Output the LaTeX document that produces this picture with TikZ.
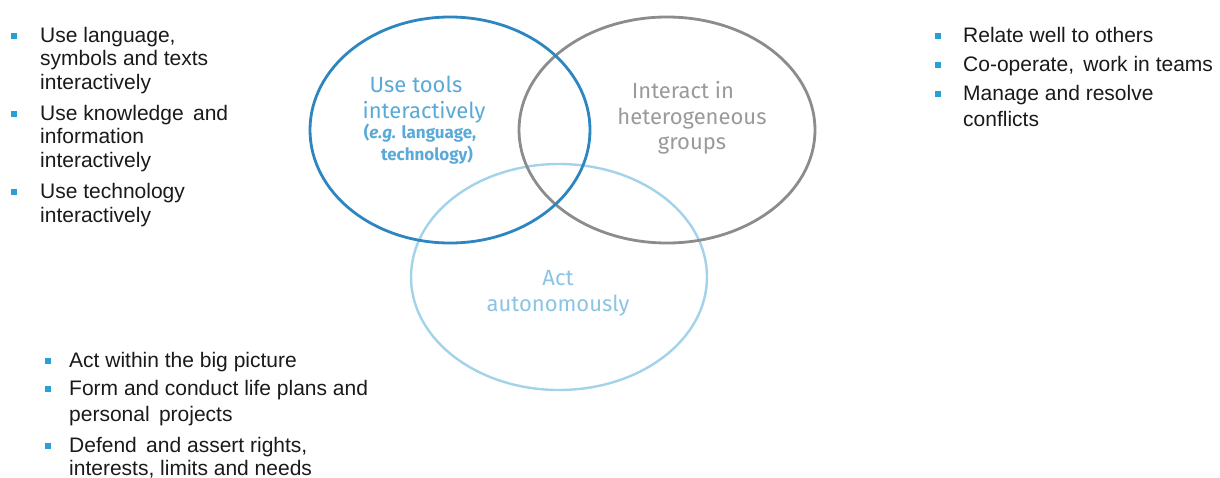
\documentclass[tikz,border=0pt]{standalone}
\usepackage{fontspec}
\usetikzlibrary{shapes.geometric}
\setmainfont{Liberation Sans}
\newfontfamily\vennfont{Fira Sans}
\definecolor{bulletc}{HTML}{2A9FD6}
\definecolor{toolsline}{HTML}{2E86C1}
\definecolor{toolstext}{HTML}{5AAAD8}
\definecolor{grpline}{HTML}{8C8C8C}
\definecolor{grptext}{HTML}{9A9A9A}
\definecolor{autoline}{HTML}{A3D2EB}
\definecolor{autotext}{HTML}{8CC4E4}
\definecolor{bodytext}{HTML}{1A1A1A}
\begin{document}
\begin{tikzpicture}[x=1pt,y=-1pt,
  ln/.style={anchor=base west,inner sep=0pt,font=\fontsize{21}{24}\selectfont,text=bodytext},
  bl/.style={fill=bulletc,minimum size=6pt,inner sep=0pt},
  vt/.style={anchor=base,inner sep=0pt,font=\vennfont\fontsize{22}{26}\selectfont},
  vs/.style={anchor=base,inner sep=0pt,font=\vennfont\fontsize{17}{20}\selectfont\bfseries}]
\useasboundingbox (0,0) rectangle (1220,477);
\fill[white] (0,0) rectangle (1220,477);
% ellipses
\node[draw=autoline,line width=2.4pt,ellipse,minimum width=296pt,minimum height=226pt,inner sep=0pt] (auto) at (559,277) {};
\node[draw=grpline,line width=2.8pt,ellipse,minimum width=296pt,minimum height=226pt,inner sep=0pt] (grp) at (667,130) {};
\node[draw=toolsline,line width=2.8pt,ellipse,minimum width=280pt,minimum height=226pt,inner sep=0pt] (tools) at (450,130) {};
% circle labels
\node[vt,text=toolstext] (t1) at (416,92) {Use tools};
\node[vt,text=toolstext] (t2) at (424,118) {interactively};
\node[vs,text=toolstext] (t3) at (420,138) {(\textit{e.g.} language,};
\node[vs,text=toolstext] (t4) at (427,160) {technology)};
\node[vt,text=grptext] (g1) at (683,98) {Interact in};
\node[vt,text=grptext] (g2) at (692,124) {heterogeneous};
\node[vt,text=grptext] (g3) at (692,149) {groups};
\node[vt,text=autotext] (a1) at (558,285) {Act};
\node[vt,text=autotext] (a2) at (558,311) {autonomously};
% left list
\node[bl] (lb1) at (14,35.5) {};
\node[ln] (l1a) at (40,42) {Use language,};
\node[ln] (l1b) at (40,65.5) {symbols and texts};
\node[ln] (l1c) at (40,89) {interactively};
\node[bl] (lb2) at (14,113.5) {};
\node[ln] (l2a) at (40,120) {Use knowledge\, and};
\node[ln] (l2b) at (40,143.5) {information};
\node[ln] (l2c) at (40,167) {interactively};
\node[bl] (lb3) at (14,191.5) {};
\node[ln] (l3a) at (40,198) {Use technology};
\node[ln] (l3b) at (40,222) {interactively};
% right list
\node[bl] (rb1) at (937.5,35.5) {};
\node[ln] (r1) at (963,42) {Relate well to others};
\node[bl] (rb2) at (937.5,64.5) {};
\node[ln] (r2) at (963,71) {Co-operate,\, work in teams};
\node[bl] (rb3) at (937.5,93.5) {};
\node[ln] (r3a) at (963,100) {Manage and resolve};
\node[ln] (r3b) at (963,126) {conflicts};
% bottom list
\node[bl] (bb1) at (47.5,360.5) {};
\node[ln] (b1) at (69,367) {Act within the big picture};
\node[bl] (bb2) at (47.5,388.5) {};
\node[ln] (b2a) at (69,395) {Form and conduct life plans and};
\node[ln] (b2b) at (69,421) {personal\, projects};
\node[bl] (bb3) at (47.5,445.5) {};
\node[ln] (b3a) at (69,452) {Defend\, and assert rights,};
\node[ln] (b3b) at (69,475) {interests, limits and needs};
\end{tikzpicture}
\end{document}
